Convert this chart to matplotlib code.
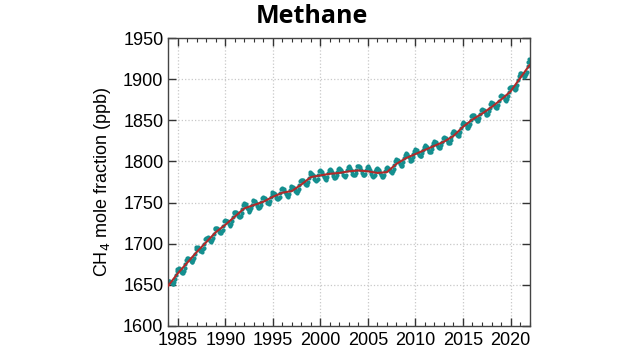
import numpy as np
import matplotlib.pyplot as plt
from matplotlib.ticker import MultipleLocator

# monthly mean CH4 (ppb), one row of 12 months per year, 1984-2021
years = list(range(1984, 2022))
monthly = [
    [1655, 1655, 1654, 1653, 1652, 1651, 1651, 1653, 1657, 1662, 1667, 1669],
    [1669, 1670, 1669, 1668, 1666, 1665, 1665, 1667, 1670, 1675, 1680, 1683],
    [1682, 1683, 1682, 1681, 1679, 1678, 1678, 1680, 1683, 1688, 1693, 1696],
    [1695, 1696, 1694, 1694, 1691, 1691, 1690, 1693, 1695, 1700, 1706, 1707],
    [1707, 1708, 1706, 1706, 1703, 1703, 1702, 1705, 1707, 1712, 1718, 1719],
    [1719, 1719, 1718, 1717, 1714, 1713, 1713, 1715, 1717, 1722, 1727, 1729],
    [1728, 1728, 1727, 1726, 1724, 1723, 1722, 1724, 1727, 1732, 1737, 1739],
    [1738, 1738, 1737, 1736, 1734, 1733, 1732, 1734, 1737, 1742, 1747, 1749],
    [1748, 1748, 1746, 1744, 1742, 1740, 1739, 1741, 1743, 1747, 1752, 1753],
    [1752, 1752, 1750, 1748, 1746, 1744, 1743, 1745, 1747, 1751, 1756, 1757],
    [1756, 1756, 1754, 1753, 1750, 1749, 1748, 1750, 1752, 1757, 1761, 1763],
    [1762, 1762, 1760, 1758, 1756, 1754, 1754, 1755, 1757, 1762, 1766, 1768],
    [1767, 1766, 1764, 1763, 1760, 1758, 1757, 1758, 1760, 1765, 1769, 1770],
    [1769, 1769, 1768, 1766, 1764, 1763, 1762, 1764, 1767, 1771, 1776, 1778],
    [1777, 1777, 1776, 1775, 1772, 1771, 1771, 1773, 1775, 1780, 1785, 1787],
    [1786, 1785, 1783, 1782, 1779, 1777, 1776, 1777, 1779, 1784, 1788, 1789],
    [1788, 1787, 1785, 1784, 1781, 1779, 1778, 1779, 1781, 1786, 1790, 1791],
    [1790, 1789, 1787, 1785, 1782, 1780, 1780, 1781, 1783, 1787, 1791, 1792],
    [1791, 1790, 1788, 1787, 1784, 1782, 1781, 1782, 1784, 1789, 1793, 1794],
    [1793, 1792, 1790, 1788, 1785, 1783, 1783, 1784, 1786, 1790, 1794, 1795],
    [1794, 1793, 1791, 1789, 1786, 1784, 1783, 1783, 1785, 1789, 1793, 1794],
    [1793, 1792, 1790, 1787, 1785, 1782, 1781, 1782, 1784, 1788, 1791, 1792],
    [1791, 1790, 1788, 1786, 1783, 1781, 1781, 1782, 1784, 1788, 1792, 1793],
    [1792, 1792, 1791, 1790, 1788, 1787, 1786, 1788, 1791, 1796, 1801, 1803],
    [1802, 1802, 1801, 1799, 1797, 1795, 1795, 1796, 1799, 1804, 1808, 1810],
    [1809, 1809, 1807, 1805, 1803, 1801, 1801, 1802, 1805, 1809, 1813, 1815],
    [1814, 1814, 1812, 1810, 1808, 1806, 1806, 1807, 1810, 1814, 1818, 1820],
    [1819, 1819, 1817, 1815, 1813, 1811, 1811, 1812, 1815, 1819, 1823, 1825],
    [1824, 1824, 1822, 1820, 1818, 1816, 1816, 1817, 1820, 1824, 1828, 1830],
    [1829, 1829, 1828, 1826, 1824, 1822, 1822, 1823, 1826, 1830, 1835, 1837],
    [1837, 1836, 1835, 1834, 1832, 1831, 1831, 1833, 1836, 1841, 1846, 1848],
    [1847, 1847, 1846, 1845, 1842, 1841, 1841, 1843, 1845, 1850, 1855, 1857],
    [1856, 1856, 1855, 1853, 1851, 1849, 1849, 1850, 1853, 1858, 1862, 1864],
    [1863, 1863, 1862, 1860, 1858, 1857, 1856, 1858, 1861, 1865, 1870, 1872],
    [1871, 1871, 1870, 1869, 1866, 1865, 1865, 1867, 1869, 1874, 1879, 1881],
    [1880, 1880, 1879, 1878, 1876, 1875, 1874, 1876, 1879, 1884, 1889, 1891],
    [1891, 1891, 1890, 1890, 1888, 1887, 1888, 1890, 1893, 1899, 1904, 1906],
    [1907, 1907, 1906, 1906, 1904, 1903, 1904, 1906, 1909, 1916, 1921, 1924],
]

# deseasonalised trend at the start of each year
trend_years = list(range(1984, 2023))
trend = [1649, 1664, 1677, 1690, 1702, 1714, 1723, 1733, 1743, 1747,
         1751, 1757, 1762, 1764, 1772, 1781, 1783, 1785, 1786, 1788,
         1789, 1788, 1786, 1787, 1797, 1804, 1809, 1814, 1819, 1824,
         1831, 1842, 1851, 1858, 1866, 1875, 1885, 1901, 1917]

t = []
ch4 = []
for y, row in zip(years, monthly):
    for m, v in enumerate(row):
        t.append(y + (m + 0.5) / 12)
        ch4.append(v)

fig = plt.figure(figsize=(6.24, 3.5), dpi=100)
ax = fig.add_axes([0.2697, 0.0686, 0.5789, 0.8228])

ax.plot(t, ch4, 'o', color='#148f8f', markersize=3.0, markeredgewidth=0, zorder=2)
ax.plot(trend_years, trend, color='#b02a2a', lw=1.5, zorder=3)

ax.set_xlim(1984, 2022)
ax.set_ylim(1600, 1950)
ax.xaxis.set_major_locator(MultipleLocator(5))
ax.xaxis.set_minor_locator(MultipleLocator(1))
ax.yaxis.set_major_locator(MultipleLocator(50))

ax.grid(True, which='major', color='#c8c8c8', ls=':', lw=0.9)
ax.tick_params(which='both', direction='in', top=True, right=True,
               colors='#333333', labelcolor='black', labelsize=13)
ax.tick_params(which='major', length=6, width=1)
ax.tick_params(which='minor', length=3, width=0.8)
ax.tick_params(axis='x', pad=4)
for s in ax.spines.values():
    s.set_color('#444444')
    s.set_linewidth(1)

for lab in ax.get_xticklabels() + ax.get_yticklabels():
    lab.set_family('Liberation Sans')

ax.set_ylabel('CH$_4$ mole fraction (ppb)', fontsize=13, family='Liberation Sans',
              labelpad=7)

fig.text(0.5, 0.952, 'Methane', ha='center', va='center',
         fontsize=18, fontweight='bold', family='Open Sans')

fig.savefig('out.png', dpi=100)
